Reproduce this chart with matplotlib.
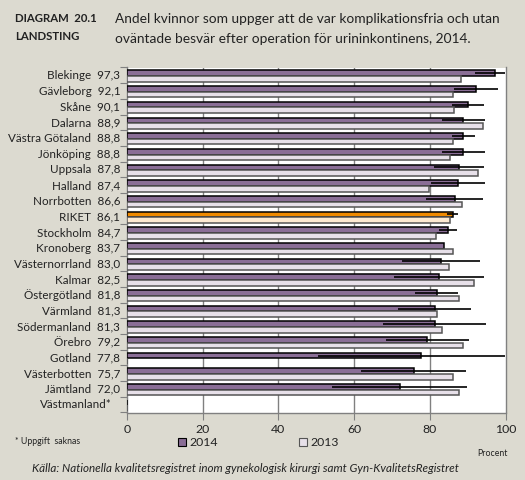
import matplotlib
matplotlib.use("Agg")
import matplotlib.pyplot as plt
import numpy as np
from matplotlib.transforms import blended_transform_factory

plt.rcParams['font.family'] = ['Lato', 'DejaVu Sans']

regions = ["Blekinge", "Gävleborg", "Skåne", "Dalarna", "Västra Götaland", "Jönköping",
           "Uppsala", "Halland", "Norrbotten", "RIKET", "Stockholm", "Kronoberg",
           "Västernorrland", "Kalmar", "Östergötland", "Värmland", "Södermanland",
           "Örebro", "Gotland", "Västerbotten", "Jämtland", "Västmanland*"]
val_2014 = [97.3, 92.1, 90.1, 88.9, 88.8, 88.8, 87.8, 87.4, 86.6, 86.1, 84.7, 83.7,
            83.0, 82.5, 81.8, 81.3, 81.3, 79.2, 77.8, 75.7, 72.0, np.nan]
val_2013 = [88.3, 86.0, 86.5, 94.0, 86.2, 85.4, 92.8, 79.9, 88.6, 85.4, 81.7, 86.0,
            85.2, 91.8, 87.8, 82.0, 83.3, 88.9, np.nan, 86.2, 87.8, np.nan]
ci_low = [91.9, 86.4, 85.9, 83.2, 85.9, 83.2, 81.1, 80.3, 79.0, 84.6, 82.3, np.nan,
          72.7, 70.6, 76.2, 71.7, 67.7, 68.3, 50.5, 61.9, 54.2, np.nan]
ci_high = [99.9, 97.9, 94.2, 94.6, 91.9, 94.6, 94.2, 94.5, 94.0, 87.4, 87.1, np.nan,
           93.2, 94.2, 87.4, 90.8, 94.8, 90.3, 99.9, 89.5, 89.7, np.nan]
xticks = [0, 20, 40, 60, 80, 100]

bg = "#DCDAD0"
c14 = "#8A6E96"
c13 = "#E7E0E9"
c14_r = "#F08A00"
c13_r = "#FDEAD2"

fig = plt.figure(figsize=(5.25, 4.8), dpi=100, facecolor=bg)
ax = fig.add_axes([127/525, 67.5/480, 378.5/525, 345/480])
ax.set_facecolor("white")

n = len(regions)
y = np.arange(n)
h = 0.36
off = 0.05
cols14 = [c14_r if r == "RIKET" else c14 for r in regions]
cols13 = [c13_r if r == "RIKET" else c13 for r in regions]
ax.barh(y - h/2 + off, np.nan_to_num(val_2014), height=h, color=cols14,
        edgecolor="black", linewidth=1.1, zorder=3)
ax.barh(y + h/2 + off, np.nan_to_num(val_2013), height=h, color=cols13,
        edgecolor="#555555", linewidth=1.1, zorder=3)
for i in range(n):
    if not np.isnan(ci_low[i]):
        ax.plot([ci_low[i], ci_high[i]], [y[i] - h/2 + off] * 2, color="black",
                lw=1.2, zorder=4, solid_capstyle="butt")

ax.set_xlim(0, 100)
ax.set_ylim(n - 0.5, -0.5)
ax.set_xticks(xticks)
ax.set_xticklabels([str(t) for t in xticks], fontsize=8.8, color="#222222")
ax.tick_params(axis="x", length=5, color="#808080", pad=3)
ax.set_yticks(np.arange(n + 1) - 0.5)
ax.set_yticklabels([])
ax.tick_params(axis="y", length=5, color="#808080")
for t in [20, 40, 60, 80]:
    ax.axvline(t, color="#808080", lw=1.0, zorder=1)
for s in ["left", "bottom", "right"]:
    ax.spines[s].set_color("#808080")
    ax.spines[s].set_linewidth(1.0)
ax.spines["top"].set_visible(False)

trans = blended_transform_factory(ax.transAxes, ax.transData)
for i, r in enumerate(regions):
    if np.isnan(val_2014[i]):
        label = r
        xpos = -0.04
    else:
        label = f"{r}  {val_2014[i]:.1f}".replace(".", ",")
        xpos = -0.018
    ax.text(xpos, i + 0.02, label, transform=trans, ha="right", va="center",
            fontsize=8.4, color="#222222")

fig.text(15/525, 1 - 19/480, "DIAGRAM  20.1", fontsize=8.2, fontweight="bold",
         va="center", ha="left", color="#222222")
fig.text(15/525, 1 - 37/480, "LANDSTING", fontsize=8.2, fontweight="bold",
         va="center", ha="left", color="#222222")
fig.text(115/525, 1 - 19/480, "Andel kvinnor som uppger att de var komplikationsfria och utan",
         fontsize=9.9, va="center", ha="left", color="#222222")
fig.text(115/525, 1 - 39/480, "oväntade besvär efter operation för urininkontinens, 2014.",
         fontsize=9.9, va="center", ha="left", color="#222222")

fig.text(15/525, 1 - 442/480, "* Uppgift  saknas", fontsize=6.3, va="center",
         ha="left", color="#222222")
fig.patches.append(plt.Rectangle((178/525, 1 - 446/480), 8/525, 8/480,
                                 transform=fig.transFigure, facecolor=c14,
                                 edgecolor="black", lw=0.8))
fig.text(189/525, 1 - 442/480, "2014", fontsize=8.8, va="center", ha="left", color="#222222")
fig.patches.append(plt.Rectangle((299/525, 1 - 446/480), 8/525, 8/480,
                                 transform=fig.transFigure, facecolor=c13,
                                 edgecolor="#555555", lw=0.8))
fig.text(310/525, 1 - 442/480, "2013", fontsize=8.8, va="center", ha="left", color="#222222")
fig.text(508/525, 1 - 453/480, "Procent", fontsize=6.3, va="center", ha="right",
         color="#222222")
fig.text(32/525, 1 - 468/480,
         "Källa: Nationella kvalitetsregistret inom gynekologisk kirurgi samt Gyn-KvalitetsRegistret",
         fontsize=8.35, style="italic", va="center", ha="left", color="#222222")

fig.savefig("out.png", dpi=100, facecolor=bg)
